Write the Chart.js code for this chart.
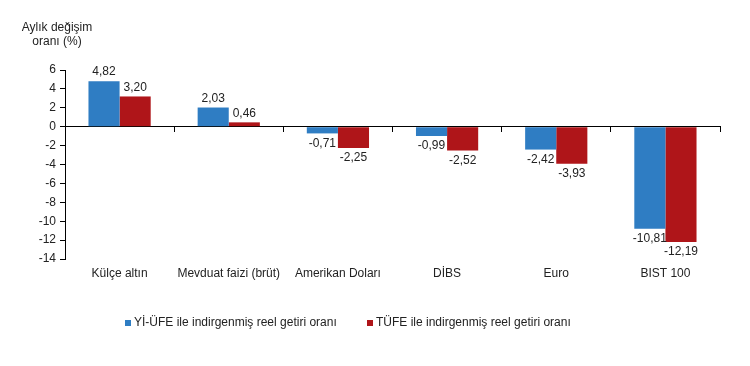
<!DOCTYPE html>
<html>
<head>
<meta charset="utf-8">
<script src="https://cdn.jsdelivr.net/npm/chart.js@4.4.0/dist/chart.umd.min.js"></script>
<style>
  body { margin: 0; background: #fff; }
  #chart { display: block; }
</style>
</head>
<body>
<canvas id="chart" width="750" height="366"></canvas>
<script>
const categories = ["Külçe altın", "Mevduat faizi (brüt)", "Amerikan Doları", "DİBS", "Euro", "BIST 100"];
const ufeValues = [4.82, 2.03, -0.71, -0.99, -2.42, -10.81];
const tufeValues = [3.2, 0.46, -2.25, -2.52, -3.93, -12.19];
const seriesNames = ["Yİ-ÜFE ile indirgenmiş reel getiri oranı", "TÜFE ile indirgenmiş reel getiri oranı"];
const yTitle = ["Aylık değişim", "oranı (%)"];

const FONT = "'Liberation Sans', Arial, sans-serif";

// value labels above / below the bars
const valueLabels = {
  id: "valueLabels",
  afterDatasetsDraw(chart) {
    const ctx = chart.ctx;
    ctx.save();
    ctx.font = "12px " + FONT;
    ctx.fillStyle = "#222";
    ctx.textAlign = "center";
    chart.data.datasets.forEach((ds, i) => {
      chart.getDatasetMeta(i).data.forEach((bar, j) => {
        const v = ds.data[j];
        const txt = v.toFixed(2).replace(".", ",");
        if (v >= 0) {
          ctx.textBaseline = "bottom";
          ctx.fillText(txt, bar.x, bar.y - 3);
        } else {
          ctx.textBaseline = "top";
          ctx.fillText(txt, bar.x, bar.y + 4);
        }
      });
    });
    ctx.restore();
  },
};

// axis title and legend
const extras = {
  id: "extras",
  afterDraw(chart) {
    const ctx = chart.ctx;
    ctx.save();
    ctx.font = "12px " + FONT;
    ctx.fillStyle = "#222";
    ctx.textAlign = "center";
    ctx.textBaseline = "middle";
    ctx.fillText(yTitle[0], 57, 28);
    ctx.fillText(yTitle[1], 57, 42);

    const starts = [125, 367];
    ctx.textAlign = "left";
    chart.data.datasets.forEach((ds, i) => {
      ctx.fillStyle = ds.backgroundColor;
      ctx.fillRect(starts[i], 320, 6, 6);
      ctx.fillStyle = "#222";
      ctx.fillText(ds.label, starts[i] + 9, 323);
    });
    ctx.restore();
  },
};

new Chart(document.getElementById("chart"), {
  type: "bar",
  data: {
    labels: categories,
    datasets: [
      { label: seriesNames[0], data: ufeValues, backgroundColor: "#2F7DC3" },
      { label: seriesNames[1], data: tufeValues, backgroundColor: "#AF1519" },
    ],
  },
  options: {
    responsive: false,
    animation: false,
    layout: { padding: { top: 70, left: 0, right: 30, bottom: 77 } },
    datasets: { bar: { categoryPercentage: 0.57, barPercentage: 1 } },
    plugins: { legend: { display: false }, tooltip: { enabled: false } },
    scales: {
      x: {
        grid: { display: false, drawTicks: false },
        border: { display: false },
        ticks: { color: "#222", font: { family: FONT, size: 12 }, padding: 7, maxRotation: 0, autoSkip: false },
        afterFit(scale) { scale.height = 30; },
      },
      x2: {
        type: "category",
        position: { y: 0 },
        offset: true,
        grid: { display: true, drawOnChartArea: false, drawTicks: true, tickLength: 5, color: "#000", offset: true },
        border: { display: true, color: "#000" },
        ticks: { display: false },
        afterFit(scale) { scale.height = 0; },
      },
      y: {
        min: -14,
        max: 6,
        ticks: { stepSize: 2, color: "#222", font: { family: FONT, size: 12 }, padding: 4 },
        grid: { display: true, drawOnChartArea: false, drawTicks: true, tickLength: 5, color: "#000" },
        border: { display: true, color: "#000" },
        afterFit(scale) { scale.width = 65; },
      },
    },
  },
  plugins: [valueLabels, extras],
});
</script>
</body>
</html>
